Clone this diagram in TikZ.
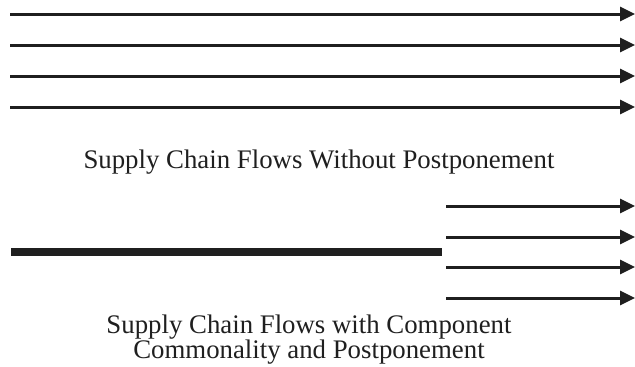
\documentclass[tikz,border=0pt]{standalone}
\usepackage{fontspec}
\setmainfont{Liberation Serif}
\usetikzlibrary{arrows.meta}
\begin{document}
\begin{tikzpicture}[x=1pt,y=-1pt,
  flow/.style={line width=3pt,color=black!88,-{Triangle[length=15pt,width=14pt]}},
  common/.style={line width=8pt,color=black!88},
  lbl/.style={font=\fontsize{26.8}{25}\selectfont,align=center,text=black!88,inner sep=0pt,anchor=base}]
\useasboundingbox (0,0) rectangle (635,367);
\foreach \i/\y in {1/14,2/45,3/76,4/107}{
  \coordinate (s\i) at (10,\y);
  \coordinate (e\i) at (635,\y);
  \draw[flow] (s\i) -- (e\i);
}
\node[lbl] (t1) at (319,168) {Supply Chain Flows Without Postponement};
\coordinate (cs) at (11,251.5);
\coordinate (ce) at (442,251.5);
\draw[common] (cs) -- (ce);
\foreach \i/\y in {1/206,2/237,3/267,4/298}{
  \coordinate (bs\i) at (446,\y);
  \coordinate (be\i) at (635,\y);
  \draw[flow] (bs\i) -- (be\i);
}
\node[lbl] (t2) at (309,358) {Supply Chain Flows with Component\\Commonality and Postponement};
\end{tikzpicture}
\end{document}
